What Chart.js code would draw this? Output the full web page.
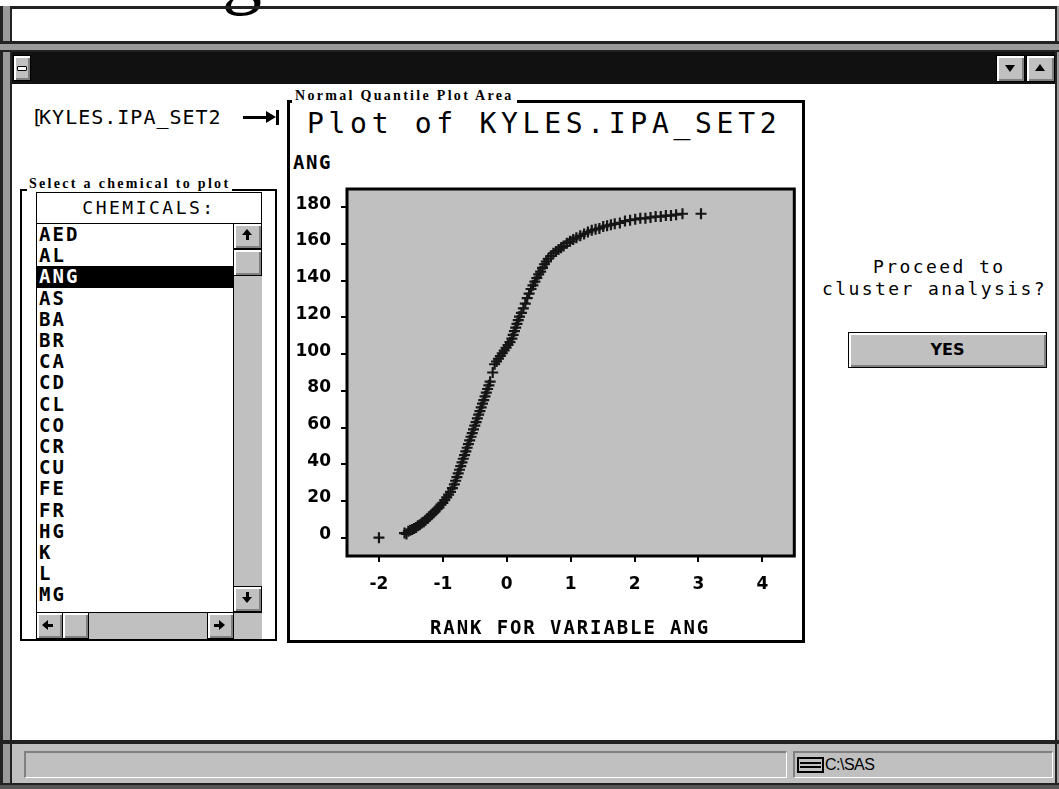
<!DOCTYPE html>
<html><head><meta charset="utf-8">
<script src="https://cdn.jsdelivr.net/npm/chart.js@4.4.0/dist/chart.umd.min.js"></script>
<style>
html,body{margin:0;padding:0;background:#fff;}
body{width:1059px;height:789px;overflow:hidden;position:relative;}
.a{position:absolute;box-sizing:border-box;}
.mono{font-family:"DejaVu Sans Mono",monospace;color:#000;white-space:pre;}
.b3{position:absolute;box-sizing:border-box;background:#c0c0c0;border:1px solid #000;box-shadow:inset 2px 2px 0 #fff, inset -2px -2px 0 #808080;}
.lbl{position:absolute;background:#fff;font-family:"Liberation Serif",serif;font-weight:bold;font-size:14px;letter-spacing:2.3px;line-height:14px;white-space:pre;color:#000;}
.tri{position:absolute;width:0;height:0;}
</style>
</head><body>
<!-- cropped text from page above -->
<div class="a" style="left:222px;top:-68px;font-family:'Liberation Serif',serif;font-size:80px;line-height:80px;">g</div>

<!-- window chrome -->
<div class="a" style="left:0;top:6px;width:1059px;height:3px;background:#222;"></div>
<div class="a" style="left:0;top:6px;width:12px;height:783px;background:#9a9a9a;border-left:3px solid #222;border-right:2px solid #222;"></div>
<div class="a" style="left:1055px;top:6px;width:4px;height:783px;background:#9a9a9a;border-left:2px solid #222;"></div>
<div class="a" style="left:0;top:41px;width:1059px;height:11px;background:#9a9a9a;border-top:3px solid #222;border-bottom:2px solid #222;"></div>
<div class="a" style="left:12px;top:52px;width:1043px;height:32px;background:#111;"></div>
<div class="b3" style="left:13px;top:55px;width:18px;height:26px;"></div>
<div class="a" style="left:17px;top:66px;width:10px;height:5px;background:#fff;border:1px solid #000;border-radius:1px;"></div>
<div class="b3" style="left:996px;top:55px;width:29px;height:27px;"></div>
<div class="tri" style="left:1005px;top:65px;border-left:5px solid transparent;border-right:5px solid transparent;border-top:7px solid #000;"></div>
<div class="b3" style="left:1026px;top:55px;width:29px;height:27px;"></div>
<div class="tri" style="left:1035px;top:64px;border-left:5px solid transparent;border-right:5px solid transparent;border-bottom:7px solid #000;"></div>

<!-- status bar -->
<div class="a" style="left:0;top:740px;width:1059px;height:4px;background:#222;"></div>
<div class="a" style="left:12px;top:744px;width:1043px;height:39px;background:#c0c0c0;"></div>
<div class="a" style="left:0;top:783px;width:1059px;height:6px;background:#555;border-top:2px solid #222;"></div>
<div class="a" style="left:24px;top:751px;width:763px;height:27px;border-top:2px solid #808080;border-left:2px solid #808080;border-bottom:1px solid #fff;border-right:1px solid #fff;"></div>
<div class="a" style="left:793px;top:751px;width:260px;height:27px;border-top:2px solid #808080;border-left:2px solid #808080;border-bottom:1px solid #fff;border-right:1px solid #fff;"></div>
<div class="a" style="left:797px;top:757px;width:27px;height:16px;border:2px solid #000;background:#c0c0c0;"></div>
<div class="a" style="left:800px;top:762px;width:21px;height:2px;background:#000;"></div>
<div class="a" style="left:800px;top:766px;width:21px;height:2px;background:#000;"></div>
<div class="a" style="left:825px;top:754px;font-family:'Liberation Sans',sans-serif;font-size:16px;line-height:22px;letter-spacing:-0.5px;color:#000;">C:\SAS</div>

<!-- dataset name + arrow -->
<div class="a mono" style="left:31px;top:105px;font-size:20px;line-height:24px;letter-spacing:1px;">[<span style="margin-left:-5px">KYLES.IPA_SET2</span></div>
<div class="a" style="left:243px;top:116px;width:26px;height:3px;background:#000;"></div>
<div class="tri" style="left:266px;top:111px;border-top:6px solid transparent;border-bottom:6px solid transparent;border-left:10px solid #000;"></div>
<div class="a" style="left:276px;top:110px;width:3px;height:15px;background:#000;"></div>

<!-- left group: chemical selection -->
<div class="a" style="left:20px;top:189px;width:257px;height:452px;border:2px solid #000;"></div>
<div class="lbl" style="left:27px;top:177px;padding:0 2px 3px 2px;">Select a chemical to plot</div>
<div class="a" style="left:36px;top:192px;width:226px;height:447px;border:1px solid #000;background:#fff;"></div>
<div class="a mono" style="left:37px;top:193px;width:224px;height:30px;line-height:30px;text-align:center;font-size:18px;letter-spacing:2.5px;">CHEMICALS:</div>
<div class="a" style="left:36px;top:223px;width:226px;height:1px;background:#000;"></div>
<div id="list" class="a" style="left:37px;top:224px;width:196px;height:388px;overflow:hidden;"></div>
<div class="a" style="left:233px;top:223px;width:29px;height:389px;background:#c0c0c0;border-left:1px solid #000;"></div>
<div class="b3" style="left:233px;top:223px;width:29px;height:26px;"></div>
<div class="tri" style="left:242px;top:229px;border-left:5px solid transparent;border-right:5px solid transparent;border-bottom:6px solid #000;"></div>
<div class="a" style="left:246px;top:235px;width:3px;height:5px;background:#000;"></div>
<div class="b3" style="left:233px;top:249px;width:29px;height:27px;"></div>
<div class="b3" style="left:233px;top:586px;width:29px;height:26px;"></div>
<div class="a" style="left:246px;top:592px;width:3px;height:5px;background:#000;"></div>
<div class="tri" style="left:242px;top:597px;border-left:5px solid transparent;border-right:5px solid transparent;border-top:6px solid #000;"></div>
<div class="a" style="left:36px;top:612px;width:226px;height:27px;background:#c0c0c0;border-top:1px solid #000;"></div>
<div class="b3" style="left:36px;top:612px;width:27px;height:27px;"></div>
<div class="tri" style="left:42px;top:620px;border-top:5px solid transparent;border-bottom:5px solid transparent;border-right:6px solid #000;"></div>
<div class="a" style="left:48px;top:624px;width:5px;height:3px;background:#000;"></div>
<div class="b3" style="left:62px;top:612px;width:27px;height:27px;"></div>
<div class="b3" style="left:207px;top:612px;width:27px;height:27px;"></div>
<div class="a" style="left:214px;top:624px;width:5px;height:3px;background:#000;"></div>
<div class="tri" style="left:219px;top:620px;border-top:5px solid transparent;border-bottom:5px solid transparent;border-left:6px solid #000;"></div>
<div class="a" style="left:233px;top:612px;width:29px;height:27px;background:#c0c0c0;border-left:1px solid #000;border-top:1px solid #000;"></div>

<!-- plot group -->
<div class="a" style="left:287px;top:100px;width:518px;height:543px;border:3px solid #000;"></div>
<div class="lbl" style="left:292px;top:89px;padding:0 3px 4px 3px;">Normal Quantile Plot Area</div>
<div class="a mono" style="left:307px;top:110px;font-size:28px;line-height:28px;letter-spacing:4.7px;">Plot of KYLES.IPA_SET2</div>
<div class="a mono" style="left:293px;top:153px;font-size:19px;line-height:19px;font-weight:bold;letter-spacing:1.5px;">ANG</div>
<canvas id="c" width="512" height="500" style="position:absolute;left:290px;top:140px;width:512px;height:500px;"></canvas>
<div class="a mono" style="left:430px;top:618px;font-size:19px;line-height:19px;font-weight:bold;letter-spacing:1.9px;">RANK FOR VARIABLE ANG</div>

<!-- right side -->
<div class="a mono" style="left:873px;top:258px;font-size:18px;line-height:18px;letter-spacing:2.4px;">Proceed to</div>
<div class="a mono" style="left:822px;top:280px;font-size:18px;line-height:18px;letter-spacing:2.4px;">cluster analysis?</div>
<div class="b3" style="left:848px;top:332px;width:199px;height:36px;line-height:34px;text-align:center;font-family:'DejaVu Sans',sans-serif;font-weight:bold;font-size:16px;">YES</div>

<script>
// ---- data ----
const chemicals = ['AED','AL','ANG','AS','BA','BR','CA','CD','CL','CO','CR','CU','FE','FR','HG','K','L','MG'];
const selectedChemical = 'ANG';

const rank = [
 -2.00,-1.60,-1.57,-1.54,-1.51,-1.48,-1.45,-1.42,-1.39,-1.36,-1.33,-1.30,-1.27,-1.24,-1.21,-1.18,-1.15,-1.12,-1.09,-1.06,
 -1.03,-1.00,-0.97,-0.94,-0.91,-0.88,-0.85,-0.82,-0.80,-0.78,-0.76,-0.74,-0.72,-0.70,-0.68,-0.66,-0.64,-0.62,-0.60,-0.58,
 -0.56,-0.54,-0.52,-0.50,-0.48,-0.46,-0.44,-0.42,-0.40,-0.38,-0.36,-0.34,-0.32,-0.30,-0.28,-0.26,-0.22,-0.19,-0.16,-0.13,
 -0.10,-0.07,-0.04,-0.01,0.02,0.05,0.08,0.10,0.12,0.14,0.16,0.18,0.20,0.23,0.26,0.29,0.32,0.35,0.38,0.41,
 0.44,0.47,0.50,0.53,0.56,0.59,0.62,0.65,0.69,0.73,0.77,0.81,0.85,0.89,0.94,0.99,1.04,1.09,1.15,1.21,
 1.27,1.33,1.39,1.45,1.51,1.57,1.63,1.69,1.77,1.85,1.93,2.01,2.09,2.17,2.25,2.33,2.41,2.49,2.57,2.65,
 2.75,3.04];
const ang = [
 0,2.5,2,3.5,4,4.5,5,5.5,6.5,7,8,8.5,9.5,10.5,11.5,12.5,13.5,14.5,15.5,16.5,
 18,19,20.5,22,23.5,25,27,29,31,33,35,37,39,41,43,45,47,49,51,53,
 55,57,59,61,63,65,67,69,71,73,75,77,79,81,83,85,90,94.5,96,97.5,
 99,100.5,102,103.5,105,106.5,108.5,110.5,112.5,114.5,116.5,118.5,120.5,122.5,125,127.5,130.5,133,135.5,137.5,
 139.5,141.5,143.5,145,147,149,150.5,152,153.5,155,156,157,158,159,160.5,161.5,162.5,163.5,164.5,165.5,
 166.5,167.5,168,168.5,169.5,170,170.5,171,171.5,172.5,173,173.5,174,174,174.5,175,175,175.5,175.5,176,
 176.5,176.5];

const xTicks = [-2,-1,0,1,2,3,4];
const yTicks = [0,20,40,60,80,100,120,140,160,180];

// ---- list box ----
const list = document.getElementById('list');
chemicals.forEach((name,i)=>{
  const d = document.createElement('div');
  d.className = 'a mono';
  d.textContent = name;
  const sel = name === selectedChemical;
  d.style.cssText = `left:0;top:${(i*21.2).toFixed(1)}px;width:196px;height:21.2px;line-height:21.2px;padding-left:2px;font-size:19px;font-weight:bold;letter-spacing:2px;` + (sel ? 'background:#000;color:#fff;' : '');
  list.appendChild(d);
});

// ---- chart ----
const frame = {
  id:'frame',
  beforeDraw(c){
    const {ctx, chartArea:a} = c;
    ctx.save(); ctx.fillStyle = '#c0c0c0';
    ctx.fillRect(a.left, a.top, a.right-a.left, a.bottom-a.top);
    ctx.restore();
  },
  afterDraw(c){
    const {ctx, chartArea:a} = c;
    ctx.save(); ctx.strokeStyle = '#000'; ctx.lineWidth = 3;
    ctx.strokeRect(a.left, a.top, a.right-a.left, a.bottom-a.top);
    ctx.restore();
  }
};

const tickFont = {family:'DejaVu Sans', weight:'bold', size:17};
new Chart(document.getElementById('c'), {
  type:'scatter',
  data:{datasets:[{
    data: rank.map((x,i)=>({x:x, y:ang[i]})),
    pointStyle:'cross', pointRadius:5.5, pointHoverRadius:5.5,
    borderColor:'#151515', backgroundColor:'#151515', borderWidth:2.2
  }]},
  options:{
    responsive:false, animation:false, devicePixelRatio:1,
    layout:{padding:{left:7, top:49, right:4, bottom:44}},
    plugins:{legend:{display:false}, tooltip:{enabled:false}},
    scales:{
      x:{
        type:'linear', min:-2.5, max:4.5,
        afterFit(s){ s.height = 40; },
        afterBuildTicks(s){ s.ticks = xTicks.map(v=>({value:v})); },
        grid:{drawOnChartArea:false, drawTicks:true, tickLength:6, color:'#000', lineWidth:2},
        border:{display:false},
        ticks:{color:'#000', font:tickFont, padding:12, maxRotation:0, autoSkip:false, callback:v=>String(v)}
      },
      y:{
        type:'linear', min:-10, max:190,
        afterFit(s){ s.width = 50; },
        afterBuildTicks(s){ s.ticks = yTicks.map(v=>({value:v})); },
        grid:{drawOnChartArea:false, drawTicks:true, tickLength:6, color:'#000', lineWidth:2},
        border:{display:false},
        ticks:{color:'#000', font:tickFont, padding:10, labelOffset:-3, autoSkip:false, callback:v=>String(v)}
      }
    }
  },
  plugins:[frame]
});
</script>
</body></html>
